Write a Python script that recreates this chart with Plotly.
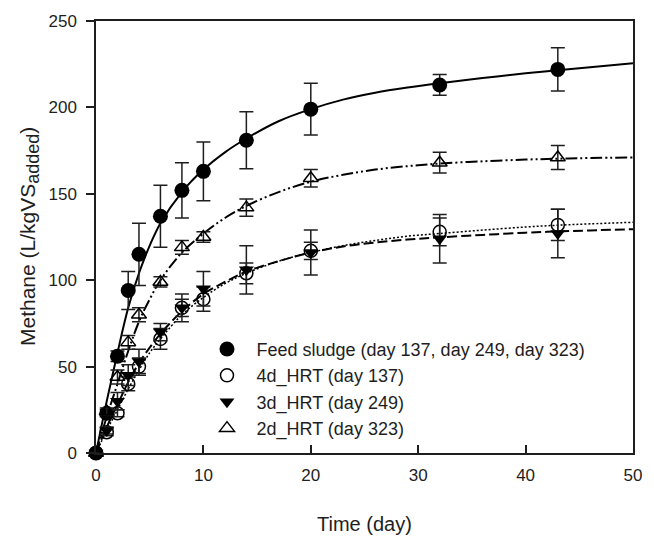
import plotly.graph_objects as go

days = [0, 1, 2, 3, 4, 6, 8, 10, 14, 20, 32, 43]

feed = [0, 23, 56, 94, 115, 137, 152, 163, 181, 199, 213, 222]
feed_err = [0, 2, 3, 11, 18, 18, 16, 17, 16.5, 15, 6, 12.5]

hrt4 = [0, 12, 23, 40, 50, 66, 84, 89, 104, 117, 128, 132]
hrt4_err = [0, 2, 2, 4, 5, 6, 5, 7, 6, 5, 8, 9]

hrt3 = [0, 13, 30, 45, 53, 70, 84, 95, 106, 116, 124, 127]
hrt3_err = [0, 2, 5, 6, 7, 5, 8, 10, 14, 13, 14, 14]

hrt2 = [0, 24, 44, 64, 80, 99, 119, 125, 142, 159, 168, 171]
hrt2_err = [0, 2, 4, 4, 4, 3, 4, 3, 5, 5, 6, 7]

# ---- fitted curves ----
curve_days = [0, 1, 2, 3, 4, 5, 6, 8, 10, 12, 14, 17, 20, 23, 26, 29, 32, 36, 40, 43, 46, 50]
feed_fit = [0, 30, 58, 84, 104, 120, 133, 151, 164, 174, 182, 192, 199, 204.5, 208.5,
            211.5, 214, 217, 219.7, 221.5, 223.3, 225.5]
hrt2_fit = [0, 21, 40, 59, 76, 89, 100, 116, 127, 136, 143, 151, 157, 161, 164,
            166, 167.5, 168.8, 169.8, 170.3, 170.7, 171]
hrt4_fit = [0, 13, 25, 37, 48, 58, 66, 80, 90, 98, 104, 111, 116, 120, 123,
            125.5, 127, 129, 130.8, 131.8, 132.6, 133.5]
hrt3_fit = [0, 15, 28, 41, 52, 61, 69, 82, 92, 99, 105, 111, 116, 119.5, 121.8,
            123.5, 124.8, 126.2, 127.5, 128.2, 128.8, 129.5]

names = ["Feed sludge (day 137, day 249, day 323)", "4d_HRT (day 137)",
         "3d_HRT (day 249)", "2d_HRT (day 323)"]

FONT = "Arial, Liberation Sans, sans-serif"
INK = "#1e1e1e"
fig = go.Figure()

# fitted curves
curve_specs = [
    (feed_fit, dict(color="black", width=2)),
    (hrt2_fit, dict(color="black", width=2, dash="12px,3px,2px,3px,2px,3px")),
    (hrt4_fit, dict(color="black", width=1.5, dash="2px,2px")),
    (hrt3_fit, dict(color="black", width=2, dash="10px,4px")),
]
for yv, ln in curve_specs:
    fig.add_trace(go.Scatter(x=curve_days, y=yv, mode="lines", line_shape="spline",
                             line=ln, showlegend=False, hoverinfo="skip"))

err_style = dict(type="data", color=INK, thickness=1.5, width=7)

series = [
    (names[0], feed, feed_err, dict(symbol="circle", size=15, color="black")),
    (names[1], hrt4, hrt4_err, dict(symbol="circle-open", size=13, color="black",
                                    line=dict(width=1.5, color="black"))),
    (names[2], hrt3, hrt3_err, dict(symbol="triangle-down", size=13, color="black")),
    (names[3], hrt2, hrt2_err, dict(symbol="triangle-up-open", size=13, color="black",
                                    line=dict(width=1.5, color="black"))),
]
for nm, y, e, mk in series:
    fig.add_trace(go.Scatter(x=days, y=y, mode="markers", name=nm, marker=mk,
                             error_y=dict(array=e, **err_style), cliponaxis=False))

axis_common = dict(ticklen=8, tickwidth=1.5, tickcolor=INK, showline=True, linecolor=INK,
                   linewidth=1.5, mirror=True, showgrid=False, zeroline=False,
                   tickfont=dict(size=17, color=INK))

fig.update_layout(
    width=654, height=543,
    margin=dict(l=96, r=13, t=15, b=90),
    paper_bgcolor="white", plot_bgcolor="white",
    font=dict(family=FONT, size=17, color=INK),
    showlegend=True,
    legend=dict(x=0.189, y=0.283, xanchor="left", yanchor="top",
                bgcolor="rgba(0,0,0,0)", font=dict(size=18, color=INK),
                tracegroupgap=0, itemwidth=49),
    xaxis=dict(range=[0, 50], tickvals=[0, 10, 20, 30, 40, 50], ticks="inside",
               ticklabelstandoff=6, **axis_common),
    yaxis=dict(range=[0, 250], tickvals=[0, 50, 100, 150, 200, 250], ticks="outside",
               ticklabelstandoff=6, **axis_common),
    annotations=[
        dict(text="Time (day)", xref="paper", yref="paper", x=0.5, y=0, yshift=-71,
             yanchor="middle", showarrow=False, font=dict(size=20, color=INK)),
        dict(text="Methane (L/kgVS<sub><span style='font-size:18px'>added</span></sub>)",
             xref="paper", yref="paper", x=0, y=0.5, xshift=-67, xanchor="center",
             textangle=-90, showarrow=False, font=dict(size=21, color=INK)),
    ],
)

fig.write_html("out.html")
